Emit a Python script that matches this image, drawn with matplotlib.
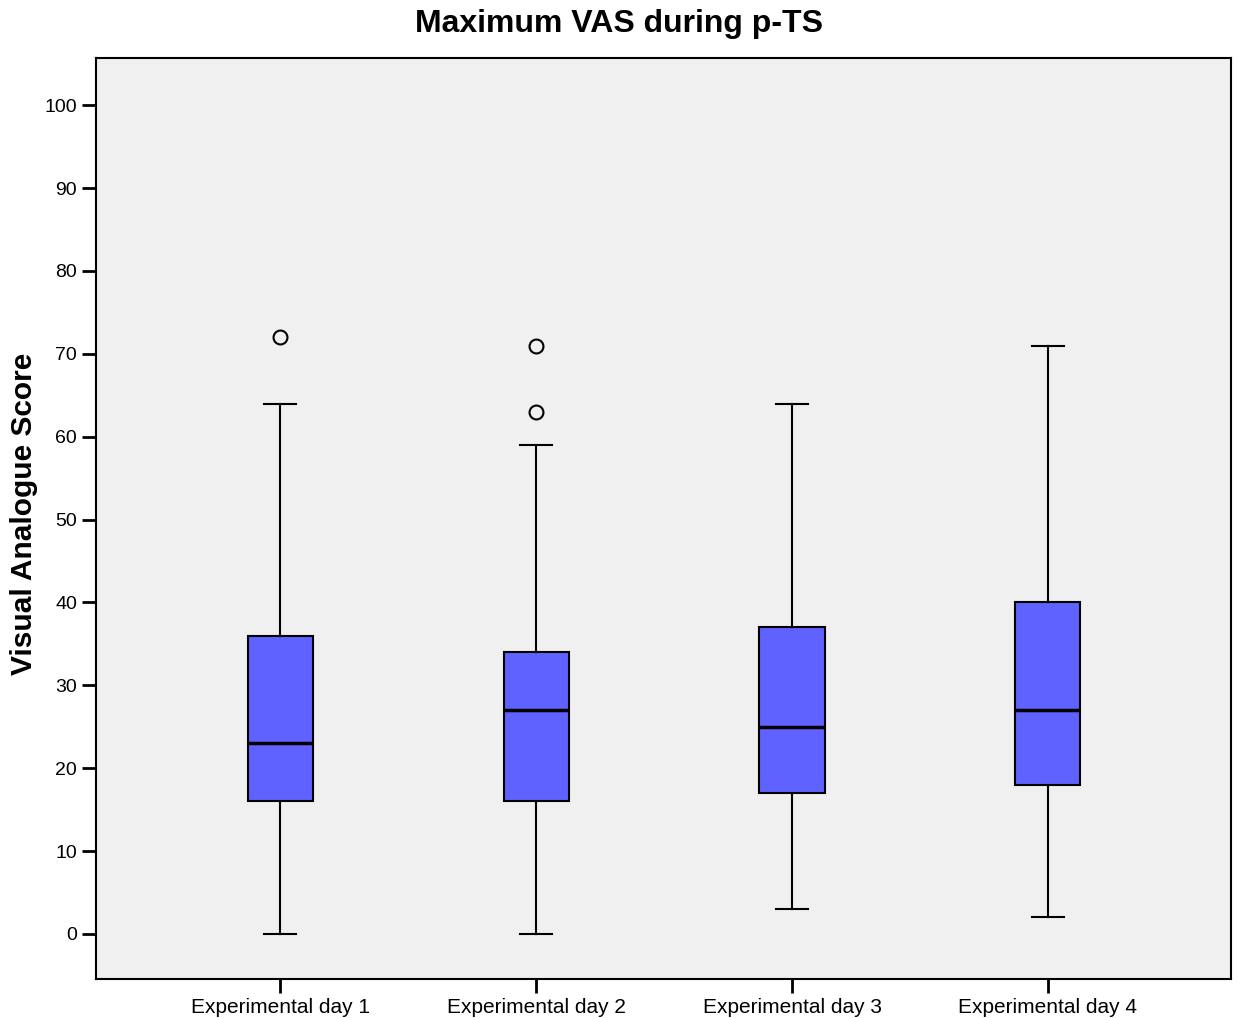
import matplotlib
matplotlib.use("Agg")
import matplotlib.pyplot as plt

plt.rcParams["font.family"] = ["Liberation Sans", "DejaVu Sans"]

# Box summary
days = ["Experimental day 1", "Experimental day 2", "Experimental day 3", "Experimental day 4"]
whisker_low = [0, 0, 3, 2]
q1 = [16, 16, 17, 18]
median = [23, 27, 25, 27]
q3 = [36, 34, 37, 40]
whisker_high = [64, 59, 64, 71]
outliers = [[72], [63, 71], [], []]

stats = []
for i, name in enumerate(days):
    stats.append({
        "label": name,
        "whislo": whisker_low[i],
        "q1": q1[i],
        "med": median[i],
        "q3": q3[i],
        "whishi": whisker_high[i],
        "fliers": outliers[i],
    })

fig = plt.figure(figsize=(12.38, 10.18), dpi=100)
ax = fig.add_axes([96 / 1238, 1 - 979 / 1018, (1231 - 96) / 1238, (979 - 58) / 1018])
ax.set_facecolor("#f0f0f0")

ax.bxp(
    stats,
    positions=[1, 2, 3, 4],
    widths=0.254,
    patch_artist=True,
    showfliers=True,
    boxprops=dict(facecolor="#5f62ff", edgecolor="black", linewidth=1.5),
    medianprops=dict(color="black", linewidth=2.5),
    whiskerprops=dict(color="black", linewidth=1.5),
    capprops=dict(color="black", linewidth=1.5),
    capwidths=0.125,
    flierprops=dict(marker="o", markerfacecolor="none", markeredgecolor="black",
                    markersize=10, markeredgewidth=1.5),
)

ax.set_xlim(0.281, 4.715)
ax.set_ylim(-5.43, 105.7)
ax.set_yticks(range(0, 101, 10))
ax.tick_params(axis="both", length=10, width=2, labelsize=14, direction="out")
ax.tick_params(axis="x", labelsize=15)
for s in ax.spines.values():
    s.set_linewidth(1.5)

# title is centred on the whole figure, not the axes
fig.text(0.5, 1 - 24 / 1018, "Maximum VAS during p-TS", fontsize=23,
         fontweight="bold", ha="center", va="center")
ax.set_ylabel("Visual Analogue Score", fontsize=21.5, fontweight="bold")
ax.yaxis.set_label_coords(-0.051, 0.505)

fig.savefig("out.png", dpi=100)
